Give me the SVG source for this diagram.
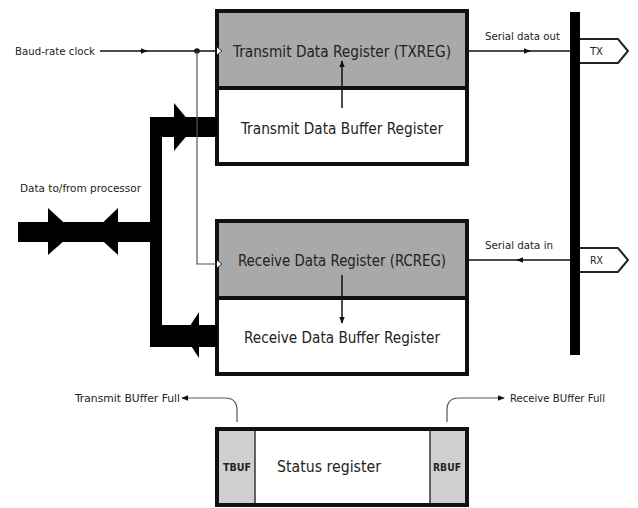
<svg xmlns="http://www.w3.org/2000/svg" width="638" height="508" viewBox="0 0 638 508">
<defs>
<style>
text{font-family:"DejaVu Sans Condensed","Liberation Sans Narrow","Liberation Sans",sans-serif;fill:#222}
.big{font-size:16px;text-anchor:middle}
.sm{font-size:10.5px}
.reg{fill:#a9a9a9;stroke:#111;stroke-width:4}
.buf{fill:#fff;stroke:#111;stroke-width:4}
.thin{fill:none;stroke:#111;stroke-width:1.5}
.thin2{fill:none;stroke:#555;stroke-width:1.2}
.bar{fill:#000}
</style>
<marker id="ah" viewBox="0 0 10 10" refX="9" refY="5" markerWidth="7" markerHeight="7" orient="auto" markerUnits="userSpaceOnUse">
<path d="M0,1 L10,5 L0,9 Z" fill="#111"/>
</marker>
</defs>
<rect width="638" height="508" fill="#fff"/>

<g id="tx-block">
<rect class="buf" x="217" y="11" width="250" height="153"/>
<rect class="reg" x="217" y="11" width="250" height="77"/>
<text class="big" x="342" y="57" textLength="218" lengthAdjust="spacingAndGlyphs">Transmit Data Register (TXREG)</text>
<text class="big" x="342" y="134" textLength="202" lengthAdjust="spacingAndGlyphs">Transmit Data Buffer Register</text>
</g>

<g id="rx-block">
<rect class="buf" x="217" y="221" width="250" height="153"/>
<rect class="reg" x="217" y="221" width="250" height="77"/>
<text class="big" x="342" y="266" textLength="208" lengthAdjust="spacingAndGlyphs">Receive Data Register (RCREG)</text>
<text class="big" x="342" y="343" textLength="196" lengthAdjust="spacingAndGlyphs">Receive Data Buffer Register</text>
</g>

<g id="status">
<rect x="217" y="429" width="250" height="76" fill="#fff" stroke="#111" stroke-width="4"/>
<rect x="219" y="431" width="36" height="72" fill="#cfcfcf"/>
<rect x="430" y="431" width="35" height="72" fill="#cfcfcf"/>
<line x1="255" y1="431" x2="255" y2="503" stroke="#333" stroke-width="1.5"/>
<line x1="430" y1="431" x2="430" y2="503" stroke="#333" stroke-width="1.5"/>
<text class="big" x="329" y="472" textLength="104" lengthAdjust="spacingAndGlyphs">Status register</text>
<text x="237" y="471" style="font-size:10px;font-weight:bold;text-anchor:middle" textLength="28" lengthAdjust="spacingAndGlyphs">TBUF</text>
<text x="447" y="471" style="font-size:10px;font-weight:bold;text-anchor:middle" textLength="28" lengthAdjust="spacingAndGlyphs">RBUF</text>
</g>

<g id="serial-bus">
<rect class="bar" x="570" y="12" width="10" height="343"/>
<path d="M580,39 H618 L628,51 L618,63 H580" fill="#fff" stroke="#222" stroke-width="2"/>
<text class="sm" x="590" y="55" textLength="13" lengthAdjust="spacingAndGlyphs">TX</text>
<path d="M580,248 H618 L628,260 L618,272 H580" fill="#fff" stroke="#222" stroke-width="2"/>
<text class="sm" x="590" y="264" textLength="13" lengthAdjust="spacingAndGlyphs">RX</text>
</g>

<g id="processor-bus">
<rect class="bar" x="150" y="117" width="12" height="230"/>
<rect class="bar" x="150" y="117" width="67" height="20"/>
<polygon class="bar" points="174,103 194,127 174,151"/>
<rect class="bar" x="150" y="325" width="67" height="22"/>
<polygon class="bar" points="199,312 184,335 199,358"/>
<rect class="bar" x="18" y="222" width="134" height="20"/>
<polygon class="bar" points="48,208 74,232 48,255"/>
<polygon class="bar" points="118,208 93,232 118,255"/>
</g>

<g id="connectors">
<line class="thin" x1="100" y1="51" x2="147" y2="51" marker-end="url(#ah)"/>
<line class="thin" x1="140" y1="51" x2="217" y2="51"/>
<circle cx="197" cy="51" r="2.8" fill="#111"/>
<polyline class="thin2" points="197,51 197,264 217,264"/>
<path d="M217,47 L222,51 L217,55" fill="#fff" stroke="#333" stroke-width="1"/>
<path d="M217,260 L222,264 L217,268" fill="#fff" stroke="#333" stroke-width="1"/>
<line class="thin" x1="467" y1="51" x2="530" y2="51" marker-end="url(#ah)"/>
<line class="thin" x1="525" y1="51" x2="570" y2="51"/>
<line class="thin" x1="570" y1="260" x2="517" y2="260" marker-end="url(#ah)"/>
<line class="thin" x1="522" y1="260" x2="467" y2="260"/>
<line class="thin" x1="342" y1="108" x2="342" y2="61" marker-end="url(#ah)"/>
<line class="thin" x1="342" y1="275" x2="342" y2="323" marker-end="url(#ah)"/>
<path class="thin2" d="M237,422 V410 Q237,398 225,398 H182" marker-end="url(#ah)"/>
<path class="thin2" d="M447,422 V410 Q447,398 459,398 H504" marker-end="url(#ah)"/>
</g>

<g id="labels">
<text class="sm" x="15" y="55" textLength="80" lengthAdjust="spacingAndGlyphs">Baud-rate clock</text>
<text class="sm" x="485" y="40" textLength="75" lengthAdjust="spacingAndGlyphs">Serial data out</text>
<text class="sm" x="485" y="249" textLength="68" lengthAdjust="spacingAndGlyphs">Serial data in</text>
<text class="sm" x="20" y="192" textLength="121" lengthAdjust="spacingAndGlyphs">Data to/from processor</text>
<text class="sm" x="75" y="402" textLength="105" lengthAdjust="spacingAndGlyphs">Transmit BUffer Full</text>
<text class="sm" x="510" y="402" textLength="95" lengthAdjust="spacingAndGlyphs">Receive BUffer Full</text>
</g>
</svg>
